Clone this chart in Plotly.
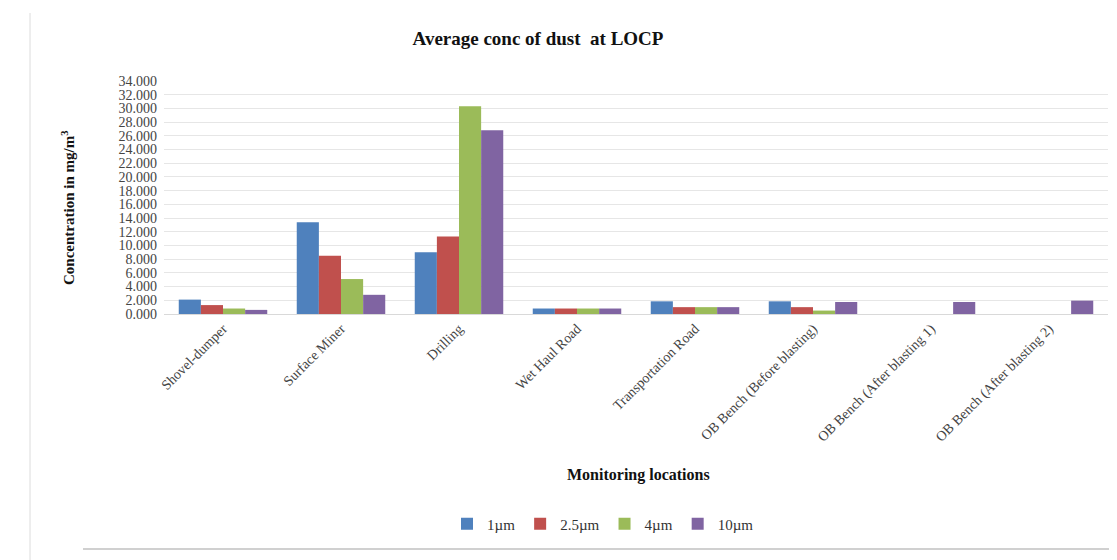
import plotly.graph_objects as go

locations = ["Shovel-dumper", "Surface Miner", "Drilling", "Wet Haul Road",
             "Transportation Road", "OB Bench (Before blasting)",
             "OB Bench (After blasting 1)", "OB Bench (After blasting 2)"]
series_names = ["1µm", "2.5µm", "4µm", "10µm"]
v_1um = [2.1, 13.4, 9.0, 0.8, 1.85, 1.85, None, None]
v_2_5um = [1.3, 8.5, 11.3, 0.8, 1.0, 1.0, None, None]
v_4um = [0.8, 5.1, 30.3, 0.8, 1.0, 0.5, None, None]
v_10um = [0.6, 2.8, 26.8, 0.8, 1.0, 1.75, 1.75, 1.95]
colors = ["#4F81BD", "#C0504D", "#9BBB59", "#8064A2"]
y_ticks = list(range(0, 35, 2))

serif = "Liberation Serif, Times New Roman, serif"
fig = go.Figure()
for name, vals, c in zip(series_names, [v_1um, v_2_5um, v_4um, v_10um], colors):
    fig.add_trace(go.Bar(x=locations, y=vals, name=name, marker_color=c,
                         marker_line_width=0))

L, R, T, B = 156, 17, 73, 254
W, H = 1117, 560
ph = H - T - B
pw = W - L - R

fig.update_layout(
    width=W, height=H,
    margin=dict(l=L, r=R, t=T, b=B),
    paper_bgcolor="white", plot_bgcolor="white",
    barmode="group", bargap=0.25, bargroupgap=0,
    title=dict(text="<b>Average conc of dust  at LOCP</b>", x=530 / W, xanchor="center",
               y=1 - 30 / H, yanchor="middle",
               font=dict(family=serif, size=19, color="#111")),
    font=dict(family=serif, color="#333"),
    showlegend=True,
    legend=dict(orientation="h", x=(595 - L) / pw, xanchor="center",
                y=(T + ph - 516) / ph, yanchor="middle",
                font=dict(family=serif, size=15, color="#333"),
                itemwidth=30, traceorder="normal"),
    xaxis=dict(tickangle=-45, tickfont=dict(family=serif, size=14, color="#444"),
               showline=True, linecolor="#d9d9d9", ticks=""),
    yaxis=dict(range=[0, 34], tickvals=y_ticks, tickformat=".3f",
               tickfont=dict(family=serif, size=14, color="#444"),
               ticklabelstandoff=6,
               showgrid=True, gridcolor="#e6e6e6", zeroline=False,
               showline=False, ticks=""),
    annotations=[
        dict(text="<b>Monitoring locations</b>", xref="paper", yref="paper",
             x=(630 - L) / pw, y=(T + ph - 467) / ph, xanchor="center", yanchor="middle",
             showarrow=False, font=dict(family=serif, size=16, color="#111")),
        dict(text="<b>Concentration in mg/m<sup>3</sup></b>", xref="paper", yref="paper",
             x=(60 - L) / pw, y=(T + ph - 200) / ph, xanchor="center", yanchor="middle",
             textangle=-90, showarrow=False, font=dict(family=serif, size=15, color="#111")),
    ],
    shapes=[
        dict(type="line", xref="paper", yref="paper", x0=(22 - L) / pw, x1=(22 - L) / pw,
             y0=(T + ph - 5) / ph, y1=(T + ph - 555) / ph, line=dict(color="#dcdcdc", width=1)),
        dict(type="line", xref="paper", yref="paper", x0=(75 - L) / pw, x1=1.02,
             y0=(T + ph - 541) / ph, y1=(T + ph - 541) / ph, line=dict(color="#d0d0d0", width=2)),
    ],
)

fig.write_html("out.html")
